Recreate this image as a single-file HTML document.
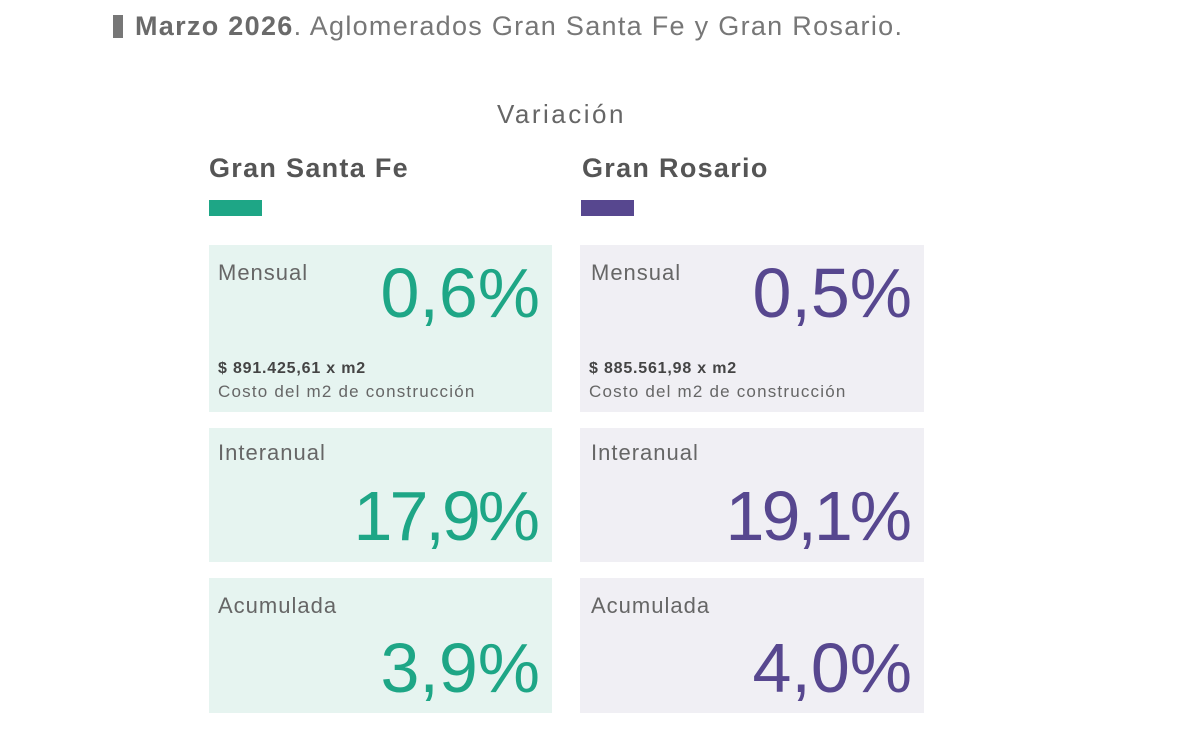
<!DOCTYPE html>
<html><head><meta charset="utf-8"><style>
body{margin:0;width:1200px;height:740px;background:#fff;font-family:"Liberation Sans",sans-serif;position:relative;overflow:hidden}
.a{position:absolute;white-space:nowrap}
.box{position:absolute}
.g{background:#e6f4f0}.p{background:#f0eff4}
.lab{position:absolute;left:9px;font-size:22px;color:#666;letter-spacing:1px}
.big{position:absolute;right:12px;font-size:70px;letter-spacing:0px}
.gc{color:#1ea686}.pc{color:#57478f}
.s1{font-size:16px;font-weight:bold;color:#444;letter-spacing:0.8px}
.s2{font-size:17px;color:#666;letter-spacing:1.2px}
</style></head><body>
<div class="a" style="left:113px;top:15px;width:10px;height:23px;background:#777"></div>
<div class="a" style="left:135px;top:11px;font-size:27px;color:#777;letter-spacing:1.3px"><b style="color:#6a6a6a">Marzo 2026</b>. Aglomerados Gran Santa Fe y Gran Rosario.</div>
<div class="a" style="left:497px;top:99px;font-size:26px;color:#666;letter-spacing:2.5px">Variación</div>
<div class="a" style="left:209px;top:153px;font-size:27px;font-weight:bold;color:#555;letter-spacing:1.3px">Gran Santa Fe</div>
<div class="a" style="left:582px;top:153px;font-size:27px;font-weight:bold;color:#555;letter-spacing:1.3px">Gran Rosario</div>
<div class="a" style="left:209px;top:200px;width:53px;height:16px;background:#1ea686"></div>
<div class="a" style="left:581px;top:200px;width:53px;height:16px;background:#57478f"></div>

<div class="box g" style="left:209px;top:245px;width:343px;height:167px">
<div class="lab" style="top:15px">Mensual</div><div class="big gc" style="top:8px">0,6%</div>
<div class="a s1" style="left:9px;top:115px">$ 891.425,61 x m2</div>
<div class="a s2" style="left:9px;top:137px">Costo del m2 de construcción</div></div>
<div class="box p" style="left:580px;top:245px;width:344px;height:167px">
<div class="lab" style="top:15px;left:11px">Mensual</div><div class="big pc" style="top:8px">0,5%</div>
<div class="a s1" style="left:9px;top:115px">$ 885.561,98 x m2</div>
<div class="a s2" style="left:9px;top:137px">Costo del m2 de construcción</div></div>

<div class="box g" style="left:209px;top:428px;width:343px;height:134px">
<div class="lab" style="top:12px">Interanual</div><div class="big gc" style="top:48px;letter-spacing:-3px;right:15px">17,9%</div></div>
<div class="box p" style="left:580px;top:428px;width:344px;height:134px">
<div class="lab" style="top:12px;left:11px">Interanual</div><div class="big pc" style="top:48px;letter-spacing:-3px;right:15px">19,1%</div></div>

<div class="box g" style="left:209px;top:578px;width:343px;height:135px">
<div class="lab" style="top:15px">Acumulada</div><div class="big gc" style="top:50px">3,9%</div></div>
<div class="box p" style="left:580px;top:578px;width:344px;height:135px">
<div class="lab" style="top:15px;left:11px">Acumulada</div><div class="big pc" style="top:50px">4,0%</div></div>
</body></html>
